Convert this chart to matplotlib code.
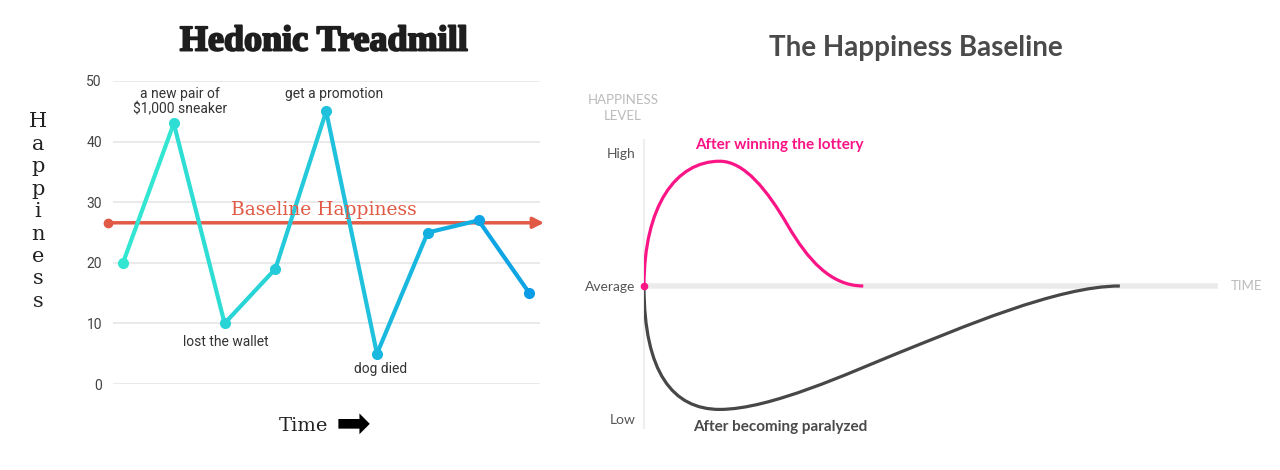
import matplotlib
matplotlib.use("Agg")
import matplotlib.pyplot as plt
import matplotlib.patheffects as pe
from matplotlib.path import Path
from matplotlib.patches import PathPatch
from matplotlib.colors import to_rgb
import numpy as np

# ---- left chart data: Hedonic Treadmill ----
steps = list(range(9))
happiness = [20, 43, 10, 19, 45, 5, 25, 27, 15]
baseline = 26.6
y_ticks = [0, 10, 20, 30, 40, 50]
# (label x, label y, text)
events = [
    (1.12, 46.6, "a new pair of\n$1,000 sneaker"),
    (2.03, 6.9, "lost the wallet"),
    (4.16, 47.8, "get a promotion"),
    (5.07, 2.4, "dog died"),
]

# ---- right chart data: The Happiness Baseline ----
levels = [-1, 0, 1]
level_names = ["Low", "Average", "High"]
# cubic bezier vertices (time, happiness level)
lottery_pts = [(0, 0), (0, 0.6), (0.55, 0.94), (1.32, 0.94),
               (1.75, 0.94), (2.15, 0.72), (2.5, 0.46),
               (2.85, 0.20), (3.25, 0.0), (3.82, 0.0)]
paralyzed_pts = [(0, 0), (0, -0.65), (0.5, -0.93), (1.32, -0.93),
                 (2.2, -0.93), (3.6, -0.65), (4.4, -0.51),
                 (5.5, -0.32), (7.2, 0.0), (8.29, 0.0)]

W, H = 1280, 470
fig = plt.figure(figsize=(W / 100, H / 100), dpi=100)


def box(x0, y0, x1, y1):
    # pixel box (top-left origin) -> figure fraction rect
    return [x0 / W, 1 - y1 / H, (x1 - x0) / W, (y1 - y0) / H]


# ================= left =================
ax = fig.add_axes(box(113, 81, 540, 384))
ax.set_xlim(-0.197, 8.21)
ax.set_ylim(0, 50)
for s in ax.spines.values():
    s.set_visible(False)
ax.set_xticks([])
ax.set_yticks(y_ticks)
ax.tick_params(axis="y", length=0, pad=8, labelsize=10, labelcolor="#444444")
for t in ax.get_yticklabels():
    t.set_fontfamily("Roboto")
ax.grid(axis="y", color="#e6e6e6", lw=1.2)
ax.set_axisbelow(True)

c0 = np.array(to_rgb("#33e6d2"))
c1 = np.array(to_rgb("#0a9ce6"))
cols = [c0 + (c1 - c0) * f for f in np.linspace(0, 1, len(steps))]
for i in range(len(steps) - 1):
    ax.plot(steps[i:i + 2], happiness[i:i + 2], color=cols[i], lw=3, zorder=3,
            solid_capstyle="round", clip_on=False)
for i in range(len(steps)):
    ax.plot(steps[i], happiness[i], "o", color=cols[i], ms=7, zorder=4, clip_on=False)

red = "#e15a45"
ax.annotate("", xy=(8.29, baseline), xytext=(-0.3, baseline),
            arrowprops=dict(arrowstyle="-|>", color=red, lw=2.5, mutation_scale=16,
                            shrinkA=0, shrinkB=0), zorder=2, annotation_clip=False)
ax.plot(-0.3, baseline, "o", color=red, ms=6, clip_on=False, zorder=2)
ax.text(3.96, 28.7, "Baseline Happiness", color=red, fontsize=13.5,
        family="DejaVu Serif", ha="center", va="center")

for x, y, label in events:
    ax.text(x, y, label, ha="center", va="center", fontsize=10,
            color="#333333", family="Roboto", linespacing=1.15, clip_on=False)

fig.text(324 / W, 1 - 42 / H, "Hedonic Treadmill", ha="center", va="center",
         fontsize=26, fontweight="bold", family="Liberation Serif", color="#1e1e1e",
         path_effects=[pe.withStroke(linewidth=1.4, foreground="#1e1e1e")])
for i, ch in enumerate("Happiness"):
    fig.text(38 / W, 1 - (127 + 22.5 * i) / H, ch, ha="center", va="baseline",
             fontsize=15, family="DejaVu Serif", color="#222222")
fig.text(303 / W, 1 - 426 / H, "Time", ha="center", va="center",
         fontsize=14, family="DejaVu Serif", color="#222222")
fig.text(353 / W, 1 - 425 / H, "\u27a1", ha="center", va="center",
         fontsize=30, family="DejaVu Sans", color="black")

# ================= right =================
ax2 = fig.add_axes(box(644, 140, 1218, 428))
ax2.set_xlim(0, 10)
ax2.set_ylim(-1.07, 1.10)
for k in ["top", "right", "bottom"]:
    ax2.spines[k].set_visible(False)
ax2.spines["left"].set_color("#eeeeee")
ax2.spines["left"].set_linewidth(1.5)
ax2.set_xticks([])
ax2.set_yticks(levels)
ax2.set_yticklabels(level_names)
ax2.tick_params(axis="y", length=0, pad=6, labelsize=10, labelcolor="#555555")
for t in ax2.get_yticklabels():
    t.set_fontfamily("Lato")
ax2.axhline(0, xmin=0, xmax=1, color="#ebebeb", lw=4, zorder=1,
            solid_capstyle="round")

codes = [Path.MOVETO] + [Path.CURVE4] * 9
pink = "#fa1485"
dark = "#474747"
ax2.add_patch(PathPatch(Path(lottery_pts, codes), fc="none", ec=pink, lw=2.3, zorder=3))
ax2.add_patch(PathPatch(Path(paralyzed_pts, codes), fc="none", ec=dark, lw=2.3, zorder=3))
ax2.plot(0, 0, "o", color=pink, ms=4.5, zorder=4, clip_on=False)

ax2.text(0.89, 1.063, "After winning the lottery", color=pink, fontsize=11,
         fontweight="bold", family="Lato", ha="left", va="center")
ax2.text(0.855, -1.063, "After becoming paralyzed", color="#4a4a4a", fontsize=11,
         fontweight="bold", family="Lato", ha="left", va="center")
ax2.text(10.49, 0, "TIME", color="#bbbbbb", fontsize=9.5, family="Lato",
         ha="center", va="center", clip_on=False)

fig.text(623 / W, 1 - 108 / H, "HAPPINESS\nLEVEL", color="#bbbbbb", fontsize=9.5,
         family="Lato", ha="center", va="center", linespacing=1.3)
fig.text(915.5 / W, 1 - 48 / H, "The Happiness Baseline", color="#4a4a4a",
         fontsize=20, fontweight="bold", family="Lato", ha="center", va="center")

fig.savefig("out.png", dpi=100, facecolor="white")
